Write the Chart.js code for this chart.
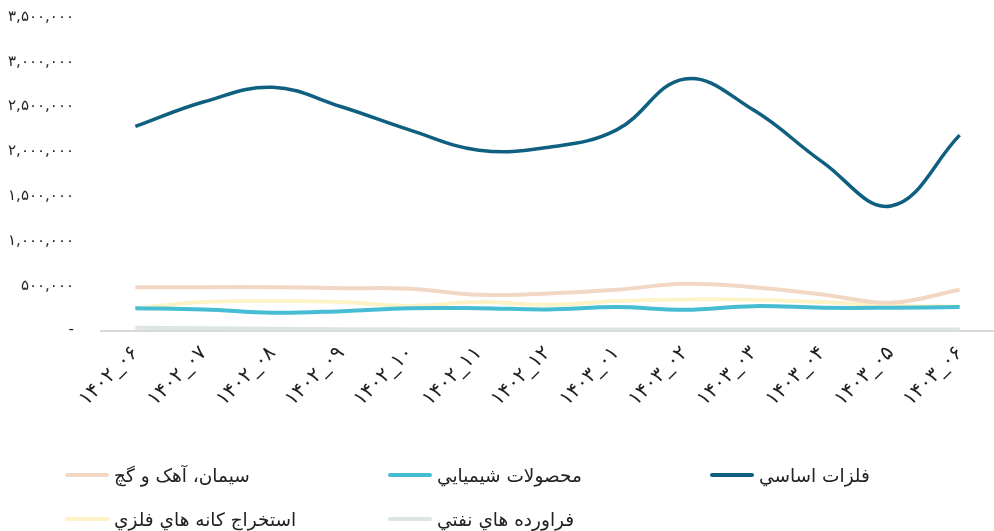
<!DOCTYPE html>
<html lang="fa">
<head>
<meta charset="utf-8">
<script src="https://cdn.jsdelivr.net/npm/chart.js@4/dist/chart.umd.min.js"></script>
<style>
  html, body { margin: 0; padding: 0; background: #fff; }
  #wrap { position: relative; width: 994px; height: 531px; overflow: hidden; }
  #c { position: absolute; left: 0; top: 0; }
  #legend { position: absolute; left: 0; top: 0; width: 994px; height: 531px; pointer-events: none; }
  .item { position: absolute; display: flex; align-items: center; height: 24px; font-family: "DejaVu Sans", sans-serif; font-size: 18.5px; color: #222; white-space: nowrap; }
  .item .ln { width: 44px; height: 4px; border-radius: 2px; margin-right: 5px; }
</style>
</head>
<body>
<div id="wrap">
  <canvas id="c" width="994" height="531"></canvas>
  <div id="legend"></div>
</div>
<script>
// ---- data ----
const categories = ['۱۴۰۲_۰۶','۱۴۰۲_۰۷','۱۴۰۲_۰۸','۱۴۰۲_۰۹','۱۴۰۲_۱۰','۱۴۰۲_۱۱','۱۴۰۲_۱۲','۱۴۰۳_۰۱','۱۴۰۳_۰۲','۱۴۰۳_۰۳','۱۴۰۳_۰۴','۱۴۰۳_۰۵','۱۴۰۳_۰۶'];
const seriesNames = ['فلزات اساسي', 'محصولات شیمیایي', 'سیمان، آهک و گچ', 'فراورده هاي نفتي', 'استخراج کانه هاي فلزي'];
const basicMetals = [2278000, 2554000, 2715000, 2498000, 2237000, 2013000, 2044000, 2237000, 2808000, 2461000, 1883000, 1390000, 2181000];
const chemicals   = [249000, 235000, 198000, 216000, 249000, 249000, 235000, 261000, 232000, 272000, 254000, 254000, 261000];
const cement      = [484000, 484000, 484000, 473000, 466000, 399000, 414000, 455000, 522000, 484000, 403000, 310000, 455000];
const petroleum   = [30000, 25000, 20000, 15000, 12000, 10000, 10000, 10000, 10000, 10000, 10000, 10000, 10000];
const metalMining = [249000, 317000, 328000, 317000, 276000, 317000, 287000, 328000, 347000, 343000, 317000, 280000, 268000];
const yTickLabels = ['-', '۵۰۰,۰۰۰', '۱,۰۰۰,۰۰۰', '۱,۵۰۰,۰۰۰', '۲,۰۰۰,۰۰۰', '۲,۵۰۰,۰۰۰', '۳,۰۰۰,۰۰۰', '۳,۵۰۰,۰۰۰'];
const colors = ['#0e5f80', '#47bdd4', '#f2d7c5', '#dbe6df', '#fdf3c6'];

const seriesData = [basicMetals, chemicals, cement, petroleum, metalMining];
const datasets = seriesData.map((d, i) => ({
  label: seriesNames[i],
  data: d,
  borderColor: colors[i],
  backgroundColor: colors[i],
  borderWidth: i === 0 ? 3.5 : 4,
  tension: 0.4,
  pointRadius: 0,
  fill: false
}));

const FONT = '"DejaVu Sans", sans-serif';

const chart = new Chart(document.getElementById('c'), {
  type: 'line',
  data: { labels: categories, datasets },
  options: {
    responsive: false,
    animation: false,
    devicePixelRatio: 1,
    layout: { padding: { top: 17, right: 0, bottom: 110, left: 0 } },
    plugins: { legend: { display: false }, tooltip: { enabled: false } },
    scales: {
      x: {
        offset: true,
        grid: { display: false, drawTicks: false },
        border: { display: true, color: '#d9d9d9', width: 2 },
        ticks: { minRotation: 45, maxRotation: 45, padding: 11, color: '#222', font: { family: FONT, size: 20 } },
        afterFit: (s) => { s.height = 90.5; }
      },
      y: {
        min: 0, max: 3500000,
        grid: { display: false, drawTicks: false },
        border: { display: false },
        ticks: {
          stepSize: 500000, padding: 27, color: '#222', font: { family: FONT, size: 15 },
          callback: (v, idx) => yTickLabels[idx]
        },
        afterFit: (s) => { s.width = 101; s.paddingTop = 0; s.paddingBottom = 0; }
      }
    }
  }
});

// HTML legend built from chart datasets (3-column grid as in the reference)
const legend = document.getElementById('legend');
const slotCol = [2, 1, 0, 1, 0];
const slotRow = [0, 0, 0, 1, 1];
const colX = [65, 388, 710];
const rowY = [463, 507];
chart.data.datasets.forEach((ds, i) => {
  const it = document.createElement('div');
  it.className = 'item';
  it.style.left = colX[slotCol[i]] + 'px';
  it.style.top = rowY[slotRow[i]] + 'px';
  const ln = document.createElement('span');
  ln.className = 'ln';
  ln.style.background = ds.borderColor;
  const tx = document.createElement('span');
  tx.dir = 'rtl';
  tx.textContent = ds.label;
  it.appendChild(ln);
  it.appendChild(tx);
  legend.appendChild(it);
});
</script>
</body>
</html>
